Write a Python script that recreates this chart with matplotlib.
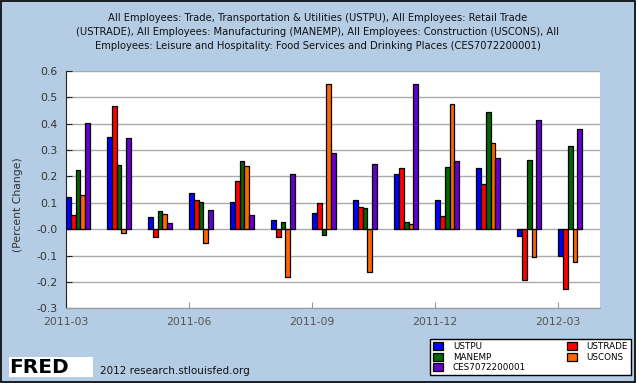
import matplotlib
matplotlib.use("Agg")
import matplotlib.pyplot as plt
from matplotlib.patches import Rectangle, Patch
import numpy as np

months = ["2011-03", "2011-04", "2011-05", "2011-06", "2011-07", "2011-08", "2011-09",
          "2011-10", "2011-11", "2011-12", "2012-01", "2012-02", "2012-03"]
series_names = ["USTPU", "USTRADE", "MANEMP", "USCONS", "CES7072200001"]
ustpu = [0.122, 0.348, 0.045, 0.136, 0.102, 0.034, 0.061, 0.110, 0.209, 0.110, 0.231, -0.026, -0.102]
ustrade = [0.054, 0.465, -0.030, 0.110, 0.184, -0.030, 0.098, 0.083, 0.231, 0.049, 0.170, -0.193, -0.227]
manemp = [0.223, 0.242, 0.068, 0.102, 0.257, 0.026, -0.023, 0.079, 0.026, 0.235, 0.442, 0.262, 0.314]
uscons = [0.129, -0.014, 0.057, -0.053, 0.238, -0.182, 0.548, -0.161, 0.019, 0.473, 0.325, -0.106, -0.125]
ces = [0.401, 0.344, 0.023, 0.072, 0.053, 0.208, 0.287, 0.246, 0.548, 0.257, 0.268, 0.412, 0.378]
colors = ["#0000FF", "#FF0000", "#006600", "#FF6600", "#6600CC"]
xtick_labels = ["2011-03", "2011-06", "2011-09", "2011-12", "2012-03"]
ytick_values = [0.6, 0.5, 0.4, 0.3, 0.2, 0.1, 0.0, -0.1, -0.2, -0.3]
ytick_labels = ["0.6", "0.5", "0.4", "0.3", "0.2", "0.1", "-0.0", "-0.1", "-0.2", "-0.3"]
title = ("All Employees: Trade, Transportation & Utilities (USTPU), All Employees: Retail Trade\n"
         "(USTRADE), All Employees: Manufacturing (MANEMP), All Employees: Construction (USCONS), All\n"
         "Employees: Leisure and Hospitality: Food Services and Drinking Places (CES7072200001)")

W, H = 636, 383
bg = "#B4CDE4"
fig = plt.figure(figsize=(W / 100, H / 100), dpi=100, facecolor=bg)

def fx(px):
    return px / W

def fy(py):
    return 1 - py / H

ax = fig.add_axes([fx(65.7), fy(308.3), fx(600) - fx(65.7), fy(70.7) - fy(308.3)])
ax.set_facecolor("white")

data = [ustpu, ustrade, manemp, uscons, ces]
x = np.arange(len(months))
bw = 0.12
for k, (vals, c, name) in enumerate(zip(data, colors, series_names)):
    ax.bar(x + k * bw, vals, width=bw, align="edge", color=c, edgecolor="black",
           linewidth=0.9, zorder=3, label=name)

ax.set_xlim(0, 13.03)
ax.set_ylim(-0.3, 0.6)
ax.set_yticks(ytick_values)
ax.set_yticklabels(ytick_labels)
ax.set_xticks([0, 3, 6, 9, 12])
ax.set_xticklabels(xtick_labels)
ax.yaxis.grid(True, color="#AAAAAA", linewidth=1.0, zorder=0)
ax.set_axisbelow(True)
for s in ["top", "right"]:
    ax.spines[s].set_visible(False)
ax.spines["left"].set_color("#222222")
ax.spines["bottom"].set_color("#999999")
ax.tick_params(axis="y", direction="in", length=4, color="#222222", labelsize=7.8,
               labelcolor="#333333", pad=6)
ax.tick_params(axis="x", direction="in", length=4, color="#999999", labelsize=7.8,
               labelcolor="#555555", pad=6)

fig.text(0.5, fy(32), title, ha="center", va="center", fontsize=7.2,
         linespacing=1.45, color="#111111")
fig.text(fx(18), fy(205), "(Percent Change)", rotation=90, ha="center", va="center",
         fontsize=7.8, color="#333333")

order = [0, 2, 4, 1, 3]
leg_handles = [Patch(facecolor=colors[i], edgecolor="black", linewidth=0.9) for i in order]
leg_labels = [series_names[i] for i in order]
leg = fig.legend(leg_handles, leg_labels, loc="upper left", ncol=2,
                 bbox_to_anchor=(fx(430), fy(379), fx(631) - fx(430), fy(339) - fy(379)),
                 mode="expand", fontsize=6.3, frameon=True, fancybox=False,
                 edgecolor="black", facecolor="white", framealpha=1,
                 handlelength=1.1, handleheight=1.1, handletextpad=1.15,
                 labelspacing=0.15, borderpad=0.35, columnspacing=2.0, borderaxespad=0)
leg.get_frame().set_linewidth(1.0)

# FRED logo block
fig.patches.append(Rectangle((fx(9), fy(377)), fx(93) - fx(9), fy(357) - fy(377),
                             transform=fig.transFigure, facecolor="white", edgecolor="none"))
fig.text(fx(9), fy(367.5), "FRED", fontsize=14.5, fontweight="heavy", color="black",
         ha="left", va="center", family="DejaVu Sans")
fig.text(fx(100), fy(371), "2012 research.stlouisfed.org", fontsize=7.5, color="#111111",
         ha="left", va="center")

# outer border
fig.patches.append(Rectangle((0.001, 0.002), 0.997, 0.996, transform=fig.transFigure,
                             facecolor="none", edgecolor="black", linewidth=1.2))

fig.savefig("out.png", dpi=100, facecolor=bg)
